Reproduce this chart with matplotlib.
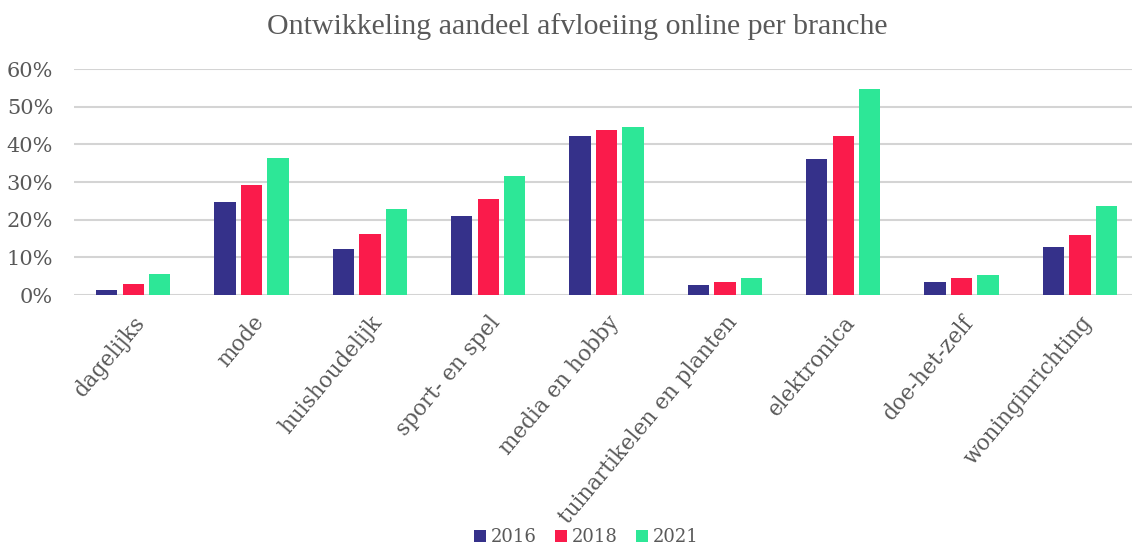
import matplotlib
matplotlib.use("Agg")
import matplotlib.pyplot as plt
import numpy as np
from matplotlib.ticker import FuncFormatter

categories = ["dagelijks", "mode", "huishoudelijk", "sport- en spel", "media en hobby",
              "tuinartikelen en planten", "elektronica", "doe-het-zelf", "woninginrichting"]
years = ["2016", "2018", "2021"]
v2016 = [1.3, 24.8, 12.1, 21.1, 42.3, 2.7, 36.0, 3.4, 12.7]
v2018 = [2.8, 29.3, 16.2, 25.5, 43.8, 3.4, 42.3, 4.5, 15.9]
v2021 = [5.7, 36.3, 22.8, 31.6, 44.6, 4.5, 54.6, 5.3, 23.7]
series = [v2016, v2018, v2021]
colors = ["#35318a", "#fa1b4b", "#2de797"]
yticks = [0, 10, 20, 30, 40, 50, 60]

fig = plt.figure(figsize=(11.32, 5.46), dpi=100)
ax = fig.add_axes([0.0654, 0.4597, 0.9346, 0.4139])

x = np.arange(len(categories))
bw = 0.18
pitch = 0.224
for i, (vals, c, yr) in enumerate(zip(series, colors, years)):
    ax.bar(x + (i - 1) * pitch, vals, width=bw, color=c, label=yr, zorder=3)

ax.set_ylim(0, 60)
ax.set_xlim(-0.5, 8.44)
ax.set_yticks(yticks)
ax.yaxis.set_major_formatter(FuncFormatter(lambda v, p: f"{int(v)}%"))
ax.grid(axis="y", color="#d4d4d4", linewidth=1.5, zorder=0)
for s in ax.spines.values():
    s.set_visible(False)
ax.tick_params(axis="both", length=0, colors="#595959")
ax.tick_params(axis="y", pad=15, labelsize=15)
ax.tick_params(axis="x", pad=12, labelsize=15.5)
for lbl in ax.get_yticklabels():
    lbl.set_family("DejaVu Serif")
ax.set_xticks(x)
ax.set_xticklabels(categories, rotation=50, ha="right", rotation_mode="anchor",
                   family="DejaVu Serif", color="#595959")

fig.text(0.51, 0.952, "Ontwikkeling aandeel afvloeiing online per branche",
         ha="center", va="center", fontsize=21.5, family="Liberation Serif", color="#595959")

leg = fig.legend(loc="center", bbox_to_anchor=(0.518, 0.016), ncol=3, frameon=False,
                 prop={"family": "DejaVu Serif", "size": 13}, handlelength=0.65,
                 handleheight=0.65, handletextpad=0.3, columnspacing=1.0)
for t in leg.get_texts():
    t.set_color("#595959")

fig.savefig("out.png", dpi=100)
